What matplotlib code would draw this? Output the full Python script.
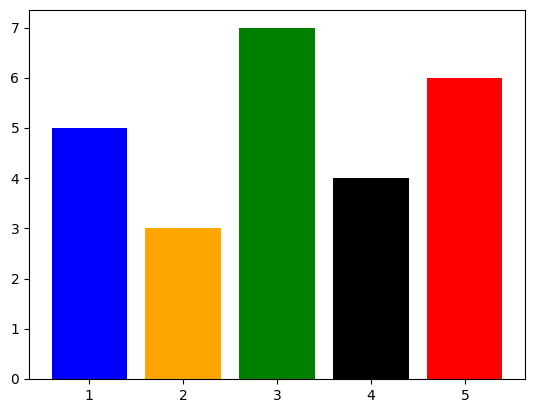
import matplotlib
matplotlib.use("Agg")
import matplotlib.pyplot as plt

# Data
categories = [1, 2, 3, 4, 5]
values = [5, 3, 7, 4, 6]
colors = ['blue', 'orange', 'green', 'black', 'red']

fig = plt.figure(figsize=(5.34, 4.13), dpi=100)
ax = fig.add_axes([29/534, 1 - 379/413, (525-29)/534, (379-10)/413])

ax.bar(categories, values, color=colors)

fig.savefig('out.png', dpi=100)
